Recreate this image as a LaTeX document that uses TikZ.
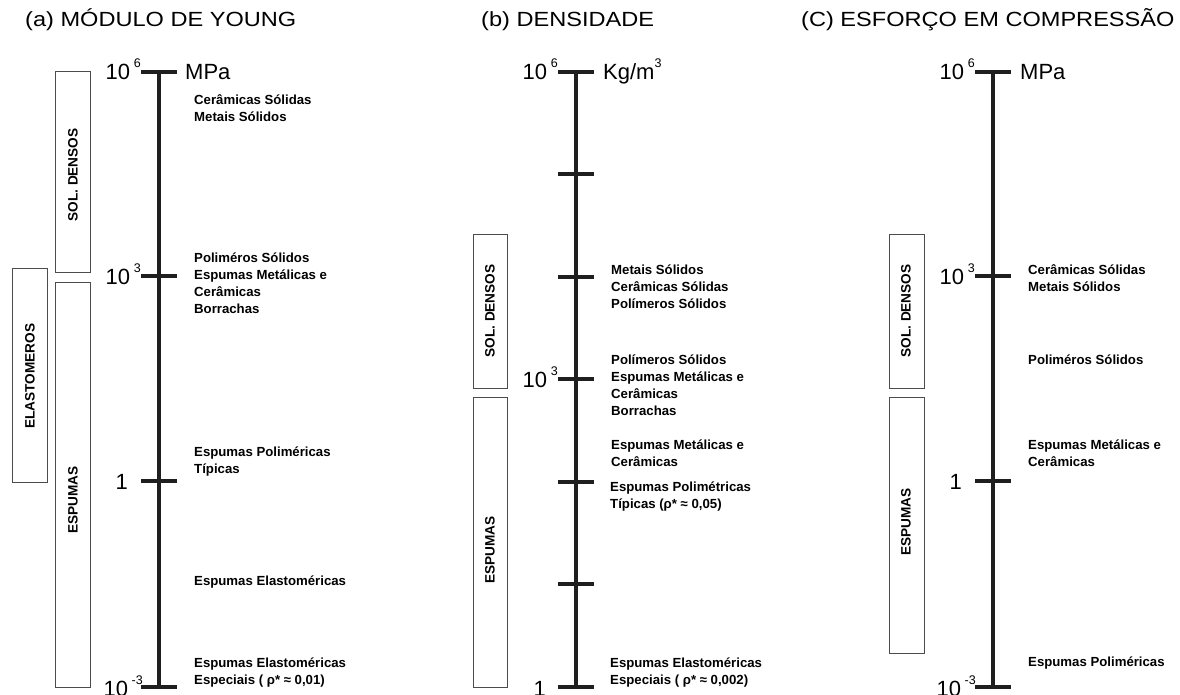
\documentclass[tikz,border=0pt]{standalone}
\usepackage{fontspec}
\setmainfont{Liberation Sans}
\usetikzlibrary{positioning}

\newcommand{\decpow}[2]{#1\,\raisebox{12pt}{\fontsize{12.5}{13}\selectfont #2}}
\newcommand{\widetitle}[1]{\scalebox{1.15}[1]{#1}}

\begin{document}
\begin{tikzpicture}[
    x=1pt, y=-1pt,
    axis/.style={line width=3.6pt, draw=black!88},
    tick/.style={line width=3.4pt, draw=black!88},
    band/.style={draw=black!70, line width=1pt},
    title/.style={anchor=base west, inner sep=0pt, font=\fontsize{20.5}{22}\selectfont},
    decade/.style={anchor=base east, inner sep=0pt, font=\fontsize{22}{24}\selectfont},
    unit/.style={anchor=base west, inner sep=0pt, font=\fontsize{22}{24}\selectfont},
    mat/.style={anchor=west, align=left, inner sep=0pt, font=\bfseries\fontsize{13.2}{17}\selectfont},
    bandtext/.style={rotate=90, inner sep=0pt, font=\bfseries\fontsize{13.6}{14}\selectfont},
  ]
  \useasboundingbox (0,0) rectangle (1180,695);

  % (a) modulo de Young
  \node[title] (ta) at (25,27) {\widetitle{(a) MÓDULO DE YOUNG}};
  \coordinate (a6) at (159,72);
  \coordinate (a3) at (159,276);
  \coordinate (a0) at (159,481);
  \coordinate (am3) at (159,687);
  \draw[axis] (a6) -- (am3);
  \foreach \t in {a6,a3,a0,am3}
    \draw[tick] (\t) ++(-18,0) -- ++(36,0);
  \node[decade] (la6) at (141,80) {\decpow{10}{6}};
  \node[decade] (la3) at (141,284) {\decpow{10}{3}};
  \node[decade] (la0) at (128,489) {1};
  \node[decade] (lam3) at (143,696) {\decpow{10}{-3}};
  \node[unit] (ua) at (185,80) {MPa};
  \node[mat] (ma1) at (194,108.5) {Cerâmicas Sólidas\\Metais Sólidos};
  \node[mat] (ma2) at (194,283.5) {Poliméros Sólidos\\Espumas Metálicas e\\Cerâmicas\\Borrachas};
  \node[mat] (ma3) at (194,462) {Espumas Poliméricas\\Típicas};
  \node[mat] (ma4) at (194,582) {Espumas Elastoméricas};
  \node[mat] (ma5) at (194,673) {Espumas Elastoméricas\\Especiais ( ρ* ≈ 0,01)};
  \draw[band] (55,72) rectangle (90,272);
  \node[bandtext] (sa) at (73,175) {SOL. DENSOS};
  \draw[band] (55,282) rectangle (90,687);
  \node[bandtext] (ea) at (73,500) {ESPUMAS};
  \draw[band] (12,268) rectangle (47,482);
  \node[bandtext] (la) at (30,376) {ELASTOMEROS};

  % (b) densidade
  \node[title] (tb) at (481,27) {\widetitle{(b) DENSIDADE}};
  \coordinate (b6) at (576,72);
  \coordinate (b5) at (576,174);
  \coordinate (b4) at (576,277);
  \coordinate (b3) at (576,379);
  \coordinate (b2) at (576,482);
  \coordinate (b1) at (576,584);
  \coordinate (b0) at (576,687);
  \draw[axis] (b6) -- (b0);
  \foreach \t in {b6,b5,b4,b3,b2,b1,b0}
    \draw[tick] (\t) ++(-18,0) -- ++(36,0);
  \node[decade] (lb6) at (558,80) {\decpow{10}{6}};
  \node[decade] (lb3) at (558,387) {\decpow{10}{3}};
  \node[decade] (lb0) at (546,696) {1};
  \node[unit] (ub) at (603,80) {Kg/m\raisebox{12pt}{\fontsize{12.5}{13}\selectfont 3}};
  \node[mat] (mb1) at (611,287) {Metais Sólidos\\Cerâmicas Sólidas\\Polímeros Sólidos};
  \node[mat] (mb2) at (611,385.5) {Polímeros Sólidos\\Espumas Metálicas e\\Cerâmicas\\Borrachas};
  \node[mat] (mb3) at (611,453.5) {Espumas Metálicas e\\Cerâmicas};
  \node[mat] (mb4) at (610,497) {Espumas Polimétricas\\Típicas (ρ* ≈ 0,05)};
  \node[mat] (mb5) at (610,672.5) {Espumas Elastoméricas\\Especiais ( ρ* ≈ 0,002)};
  \draw[band] (473,234) rectangle (507,388);
  \node[bandtext] (sb) at (490,311) {SOL. DENSOS};
  \draw[band] (473,397) rectangle (507,687);
  \node[bandtext] (eb) at (490,550) {ESPUMAS};

  % (c) esforco em compressao
  \node[title] (tc) at (801,27) {\widetitle{(C) ESFORÇO EM COMPRESSÃO}};
  \coordinate (c6) at (993,72);
  \coordinate (c3) at (993,276);
  \coordinate (c0) at (993,481);
  \coordinate (cm3) at (993,687);
  \draw[axis] (c6) -- (cm3);
  \foreach \t in {c6,c3,c0,cm3}
    \draw[tick] (\t) ++(-18,0) -- ++(36,0);
  \node[decade] (lc6) at (975,80) {\decpow{10}{6}};
  \node[decade] (lc3) at (975,284) {\decpow{10}{3}};
  \node[decade] (lc0) at (962,489) {1};
  \node[decade] (lcm3) at (976,696) {\decpow{10}{-3}};
  \node[unit] (uc) at (1020,80) {MPa};
  \node[mat] (mc1) at (1028,278.5) {Cerâmicas Sólidas\\Metais Sólidos};
  \node[mat] (mc2) at (1028,360) {Poliméros Sólidos};
  \node[mat] (mc3) at (1028,453.5) {Espumas Metálicas e\\Cerâmicas};
  \node[mat] (mc4) at (1028,663) {Espumas Poliméricas};
  \draw[band] (889,234) rectangle (924,388);
  \node[bandtext] (sc) at (906,311) {SOL. DENSOS};
  \draw[band] (889,397) rectangle (924,653);
  \node[bandtext] (ec) at (906,522) {ESPUMAS};
\end{tikzpicture}
\end{document}
